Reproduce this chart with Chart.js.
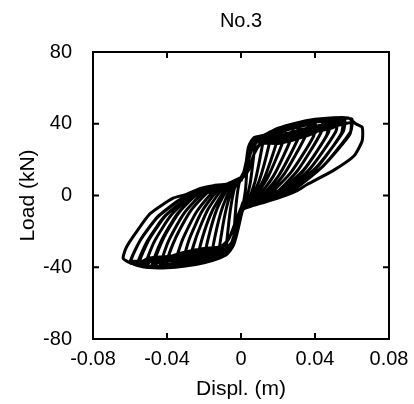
<!DOCTYPE html>
<html>
<head>
<meta charset="utf-8">
<script src="https://cdn.jsdelivr.net/npm/chart.js@4.4.1/dist/chart.umd.min.js"></script>
<style>
  html, body { margin: 0; padding: 0; background: #fff; }
  #wrap { width: 414px; height: 404px; }
</style>
</head>
<body>
<div id="wrap"><canvas id="loadChart" width="414" height="404"></canvas></div>
<script>
// Specimen No.3 - load vs displacement record, one row per loading cycle
const chartTitle = 'No.3';
const xTicks = [-0.08, -0.04, 0, 0.04, 0.08];
const xTickLabels = ['-0.08', '-0.04', '0', '0.04', '0.08'];
const yTicks = [-80, -40, 0, 40, 80];
const yTickLabels = ['-80', '-40', '0', '40', '80'];

// displacement (m)
const cycleDispl = [
  [0.000, 0.0015, 0.004, 0.0034, 0.0025, 0.001, -0.0014, -0.004, -0.0034, -0.0024, -0.001],
  [0.000, 0.0024, 0.0045, 0.008, 0.0072, 0.005, 0.002, 0.001, -0.0014, -0.004, -0.008, -0.007, -0.0053, -0.003, -0.001],
  [0.000, 0.0022, 0.004, 0.0067, 0.012, 0.0112, 0.0075, 0.003, 0.001, -0.0014, -0.004, -0.0074, -0.012, -0.0104, -0.0076, -0.004, -0.001],
  [0.000, 0.003, 0.0055, 0.009, 0.012, 0.016, 0.0152, 0.010, 0.004, 0.001, -0.0022, -0.005, -0.009, -0.012, -0.016, -0.0138, -0.010, -0.005, -0.002],
  [0.000, 0.004, 0.007, 0.0105, 0.015, 0.020, 0.0192, 0.0125, 0.005, 0.001, -0.003, -0.0065, -0.011, -0.016, -0.020, -0.0174, -0.0129, -0.007, -0.003],
  [0.000, 0.0022, 0.004, 0.0067, 0.012, 0.020, 0.024, 0.0232, 0.0145, 0.005, 0.001, -0.0014, -0.004, -0.0074, -0.012, -0.020, -0.024, -0.0208, -0.0152, -0.008, -0.003],
  [0.000, 0.003, 0.0055, 0.009, 0.012, 0.020, 0.028, 0.0272, 0.0175, 0.007, 0.004, 0.001, -0.0022, -0.005, -0.009, -0.012, -0.020, -0.028, -0.0244, -0.0181, -0.010, -0.003],
  [0.000, 0.004, 0.007, 0.0105, 0.020, 0.030, 0.032, 0.0312, 0.0205, 0.009, 0.004, 0.001, -0.003, -0.0065, -0.011, -0.016, -0.020, -0.030, -0.032, -0.028, -0.021, -0.012, -0.003],
  [0.000, 0.0022, 0.004, 0.0067, 0.012, 0.020, 0.030, 0.036, 0.0352, 0.0235, 0.011, 0.004, 0.001, -0.003, -0.0065, -0.011, -0.020, -0.030, -0.036, -0.0316, -0.0239, -0.014, -0.003],
  [0.000, 0.004, 0.007, 0.0105, 0.020, 0.030, 0.040, 0.0392, 0.027, 0.014, 0.010, 0.004, 0.001, -0.0022, -0.005, -0.009, -0.012, -0.020, -0.030, -0.040, -0.0354, -0.0274, -0.017, -0.010, -0.003],
  [0.000, 0.003, 0.0055, 0.009, 0.012, 0.020, 0.030, 0.040, 0.044, 0.0432, 0.0305, 0.017, 0.010, 0.004, 0.001, -0.003, -0.0065, -0.011, -0.020, -0.030, -0.040, -0.044, -0.0392, -0.0308, -0.020, -0.010, -0.003],
  [0.000, 0.004, 0.007, 0.0105, 0.020, 0.030, 0.040, 0.048, 0.0472, 0.034, 0.020, 0.010, 0.004, 0.001, -0.003, -0.0065, -0.011, -0.020, -0.030, -0.040, -0.048, -0.043, -0.0343, -0.023, -0.010, -0.003],
  [0.000, 0.003, 0.0055, 0.009, 0.012, 0.020, 0.030, 0.040, 0.047, 0.0463, 0.0335, 0.0195, 0.010, 0.004, 0.001, -0.0022, -0.005, -0.009, -0.012, -0.020, -0.030, -0.040, -0.047, -0.042, -0.0335, -0.0225, -0.010, -0.003],
  [0.000, 0.0022, 0.004, 0.0067, 0.012, 0.020, 0.030, 0.040, 0.048, 0.052, 0.0512, 0.0375, 0.023, 0.020, 0.010, 0.004, 0.001, -0.0014, -0.004, -0.0074, -0.012, -0.020, -0.030, -0.040, -0.048, -0.052, -0.0468, -0.0377, -0.026, -0.020, -0.010, -0.003],
  [0.000, 0.003, 0.0055, 0.009, 0.012, 0.020, 0.030, 0.040, 0.050, 0.056, 0.0552, 0.041, 0.026, 0.020, 0.010, 0.004, 0.001, -0.0022, -0.005, -0.009, -0.012, -0.020, -0.030, -0.040, -0.050, -0.056, -0.0506, -0.0412, -0.029, -0.020, -0.010, -0.003],
  [0.000, 0.004, 0.007, 0.0105, 0.020, 0.030, 0.040, 0.050, 0.055, 0.0542, 0.0405, 0.0255, 0.020, 0.010, 0.004, 0.001, -0.003, -0.0065, -0.011, -0.020, -0.030, -0.040, -0.050, -0.055, -0.0497, -0.0405, -0.0285, -0.020, -0.010, -0.003],
  [0.000, 0.0022, 0.004, 0.0067, 0.012, 0.020, 0.030, 0.040, 0.050, 0.056, 0.060, 0.0592, 0.045, 0.030, 0.020, 0.010, 0.004, 0.001, -0.0014, -0.004, -0.0074, -0.012, -0.020, -0.030, -0.040, -0.050, -0.056, -0.060, -0.0546, -0.0452, -0.033, -0.030, -0.020, -0.010, -0.003],
  [0.000, 0.0022, 0.004, 0.0067, 0.012, 0.020, 0.030, 0.040, 0.050, 0.056, 0.0595, 0.0588, 0.0445, 0.0295, 0.020, 0.010, 0.004, 0.001, -0.0014, -0.004, -0.0074, -0.012, -0.020, -0.030, -0.040, -0.050, -0.056, -0.0595, -0.0542, -0.0447, -0.0325, -0.020, -0.010, -0.003],
  [0.000, 0.0024, 0.004, 0.0067, 0.012, 0.020, 0.030, 0.040, 0.050, 0.058, 0.062, 0.0655, 0.0655, 0.061, 0.050, 0.0355, 0.030, 0.020, 0.010, 0.004, 0.001, -0.0014, -0.004, -0.0074, -0.012, -0.020, -0.030, -0.040, -0.050, -0.056, -0.060, -0.0637, -0.062, -0.057, -0.049, -0.0367, -0.030, -0.022, -0.015, -0.0074, 0.000]
];

// load (kN), same rows as above
const cycleLoad = [
  [8, 13, 24, 18, 4, -6, -18, -27, -15, -2.5, 7],
  [9, 15.5, 26.5, 32, 25, 7, -5.3, -7, -17, -27, -32.5, -19, -5, 5.8, 8],
  [9, 15, 25.5, 31, 33, 26, 7.5, -4.8, -6, -18, -27.5, -32.5, -34.5, -20.5, -5.8, 5.4, 7.5],
  [9.5, 15, 25, 30.5, 32.5, 35.5, 28.5, 8.7, -4.5, -7, -17, -26, -31.5, -33.5, -36, -21.6, -6.5, 5, 7.5],
  [9, 14, 23, 29, 33, 36.5, 29.5, 9.4, -4, -5, -15, -24, -30, -34, -37, -22.6, -7.3, 4.2, 5.5],
  [9.5, 15, 25.5, 31, 31.5, 35.5, 38.5, 31.5, 10.2, -4, -6, -18, -27.5, -32.5, -33, -35.5, -38, -23.3, -7.8, 3.9, 6.3],
  [10, 15, 25, 30.5, 30, 34, 39, 32, 10.8, -3.3, -5.5, -7, -17, -26, -31.5, -31, -32.5, -38.5, -23.8, -8.2, 3.6, 7.3],
  [9, 14, 23, 29, 31, 35.5, 39.5, 32.5, 11.3, -2.8, -3.5, -5, -15, -24, -30, -35.5, -36.5, -38.3, -39.5, -24.5, -8.7, 3.3, 5.3],
  [9.5, 15, 25.5, 31, 32, 36.5, 39.5, 41, 34, 12.2, -2.3, -4.5, -6, -15, -24, -29, -30.5, -32.3, -39.5, -24.6, -8.9, 3, 6.3],
  [9, 14, 23, 29, 29.5, 33, 40, 33, 12.9, -0.5, -0.8, -2.5, -4, -17, -26, -31.5, -32, -34.5, -36.3, -38, -23.8, -8.8, 2.5, 3, 5],
  [10, 15, 25, 30.5, 31.5, 35, 38, 40.5, 42, 35, 13.8, -0.4, -3.5, -5.5, -7, -15, -24, -28.5, -29.5, -31.5, -35, -40, -25.4, -9.9, 1.8, 5, 7.3],
  [9, 14, 23, 29, 29, 31.5, 35, 42, 35, 14.5, 1.5, -1.5, -3.5, -5, -15, -24, -30, -35.5, -37.3, -38.3, -39.5, -25.2, -10.1, 1.0, 3.5, 5.5],
  [9.5, 15, 25, 30.5, 30.5, 32.5, 34.5, 37, 40, 33.5, 13.5, 1.2, -2, -4, -5.5, -17, -26, -30, -30.5, -32.5, -34, -35.5, -38, -24, -9.5, 1.5, 4.5, 6.5],
  [9.5, 15, 25.5, 31, 30, 33, 36, 38.5, 40.5, 42.5, 35.5, 15.2, 1.7, 0.5, -2.5, -4.5, -6, -18, -27.5, -31, -30.5, -31.5, -33.3, -34.3, -36, -39.5, -25.6, -10.9, 0.2, 2.3, 4, 6.3],
  [9, 15, 25, 30.5, 29.5, 30.5, 33, 35.5, 38, 42.5, 35.5, 16, 3.5, 2.5, -0.5, -2.5, -4, -17, -26, -31, -31, -33.5, -35.3, -36.3, -36.2, -38.5, -25.4, -11.5, -1.5, 1.3, 3, 5],
  [9, 14, 23, 29, 31.5, 35, 37.5, 40, 41.5, 34.5, 15, 2.8, 1.0, -1.5, -3.5, -5, -15, -24, -29.5, -31, -33, -34, -35, -37.5, -24.5, -11, -1.2, 2, 4, 6],
  [10, 15, 25.5, 31, 32, 36, 39, 41, 42, 43, 42.5, 35.5, 17, 4.5, -0.5, -3.5, -5.5, -7, -17, -26.5, -31.5, -34, -36.5, -38.3, -39.3, -39.2, -38.3, -37.5, -25.2, -12.2, -2.3, -0.5, 3.3, 5, 7.3],
  [9.5, 15, 25.5, 30.5, 29, 31, 33.5, 36, 38.5, 40, 40.5, 34, 16.5, 4.0, 0, -3, -5, -6.5, -17, -26.5, -31.5, -32, -34, -35.5, -36.5, -37, -36.5, -36.5, -24.5, -11.5, -2.0, 2.8, 4.5, 6.8],
  [10, 16, 27, 32, 33.5, 37.5, 40.5, 42.5, 43.4, 43.3, 40, 38, 30.5, 22, 14, 6, 2.5, -1.5, -4.5, -6.5, -8, -18, -27.5, -32.5, -35, -37.5, -39.3, -40.3, -40.2, -39, -37.5, -35, -29, -21, -10, -1.5, 0.5, 4, 5.5, 6.5, 10]
];

const points = cycleDispl.flatMap((row, i) => row.map((d, j) => ({ x: d, y: cycleLoad[i][j] })));

const fontFamily = "'Liberation Sans', Arial, Helvetica, sans-serif";

// frame with inward ticks on all four sides
const framePlugin = {
  id: 'frame',
  afterDraw(chart) {
    const { ctx, chartArea: a, scales: { x, y } } = chart;
    ctx.save();
    ctx.strokeStyle = '#000';
    ctx.lineWidth = 2;
    ctx.strokeRect(a.left, a.top, a.right - a.left, a.bottom - a.top);
    ctx.beginPath();
    xTicks.forEach(v => {
      const px = x.getPixelForValue(v);
      ctx.moveTo(px, a.bottom); ctx.lineTo(px, a.bottom - 6);
      ctx.moveTo(px, a.top); ctx.lineTo(px, a.top + 6);
    });
    yTicks.forEach(v => {
      const py = y.getPixelForValue(v);
      ctx.moveTo(a.left, py); ctx.lineTo(a.left + 6, py);
      ctx.moveTo(a.right, py); ctx.lineTo(a.right - 6, py);
    });
    ctx.stroke();
    ctx.restore();
  }
};

const titlePlugin = {
  id: 'plotTitle',
  afterDraw(chart) {
    const { ctx, chartArea: a } = chart;
    ctx.save();
    ctx.fillStyle = '#000';
    ctx.font = '20px ' + fontFamily;
    ctx.textAlign = 'center';
    ctx.textBaseline = 'middle';
    ctx.fillText(chartTitle, (a.left + a.right) / 2, 21);
    ctx.restore();
  }
};

const ctx = document.getElementById('loadChart').getContext('2d');
new Chart(ctx, {
  type: 'scatter',
  data: {
    datasets: [{
      data: points,
      showLine: true,
      borderColor: '#000',
      borderWidth: 3,
      pointRadius: 0,
      tension: 0.2,
      fill: false
    }]
  },
  options: {
    responsive: false,
    animation: false,
    devicePixelRatio: 1,
    layout: { padding: { top: 52, right: 25, left: 0, bottom: 0 } },
    plugins: {
      legend: { display: false },
      tooltip: { enabled: false }
    },
    scales: {
      x: {
        type: 'linear',
        min: -0.08,
        max: 0.08,
        afterBuildTicks: s => { s.ticks = xTicks.map(v => ({ value: v })); },
        afterFit: s => { s.height = 65; },
        grid: { display: false },
        border: { display: false },
        ticks: {
          color: '#000',
          font: { family: fontFamily, size: 20 },
          padding: 0,
          maxRotation: 0,
          autoSkip: false,
          callback: (v, i) => xTickLabels[i]
        },
        title: {
          display: true,
          text: 'Displ. (m)',
          color: '#000',
          font: { family: fontFamily, size: 21 },
          padding: { top: 0, bottom: 2 }
        }
      },
      y: {
        type: 'linear',
        min: -80,
        max: 80,
        afterBuildTicks: s => { s.ticks = yTicks.map(v => ({ value: v })); },
        afterFit: s => { s.width = 93; },
        grid: { display: false },
        border: { display: false },
        ticks: {
          color: '#000',
          font: { family: fontFamily, size: 20 },
          padding: 13,
          autoSkip: false,
          callback: (v, i) => yTickLabels[i]
        },
        title: {
          display: true,
          text: 'Load (kN)',
          color: '#000',
          font: { family: fontFamily, size: 21 },
          padding: { top: 16, bottom: 0 }
        }
      }
    }
  },
  plugins: [framePlugin, titlePlugin]
});
</script>
</body>
</html>
